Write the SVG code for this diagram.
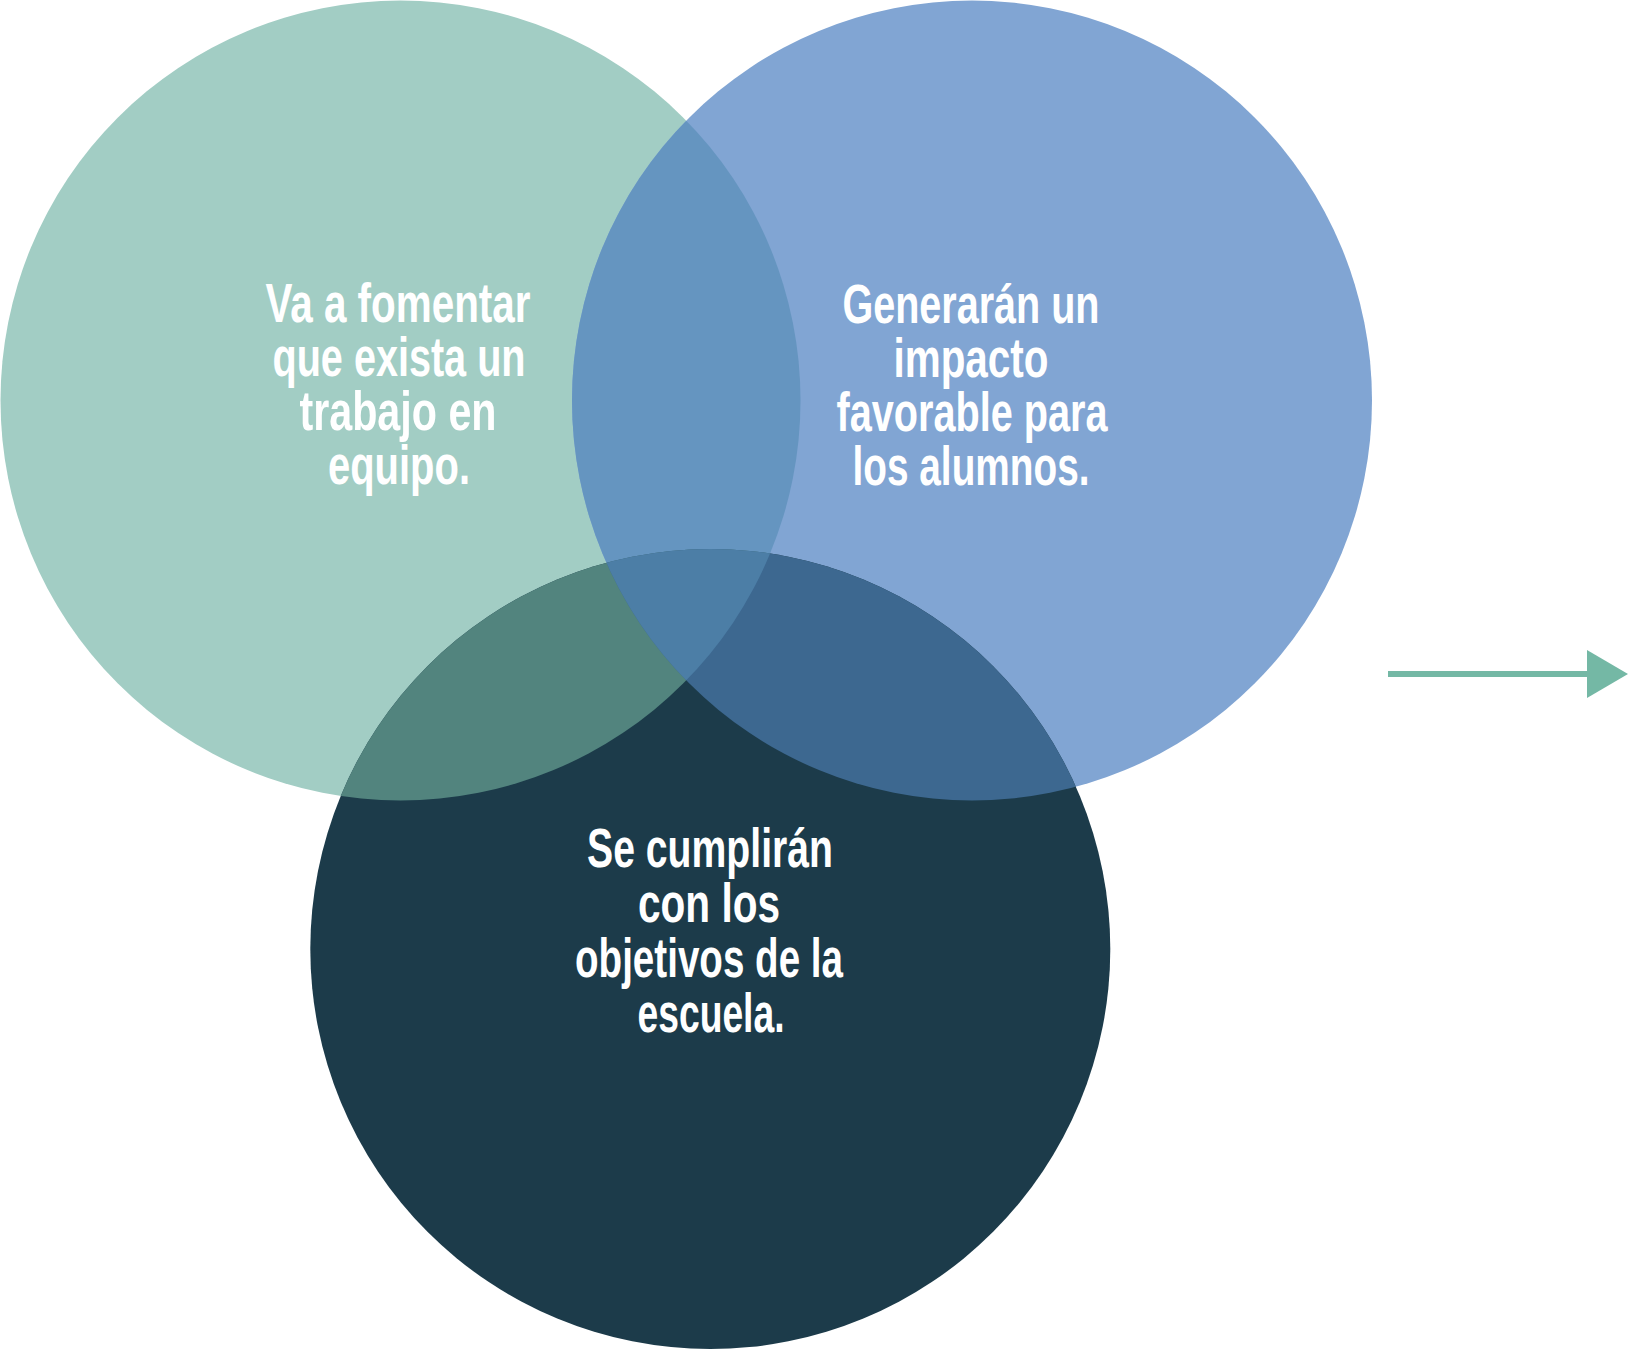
<svg xmlns="http://www.w3.org/2000/svg" width="1628" height="1350" viewBox="0 0 1628 1350">
<style>
.lbl{font-family:"Liberation Sans Narrow","Liberation Sans",Arial,sans-serif;font-weight:bold;font-size:56px;fill:#ffffff;text-anchor:middle}
</style>
<defs>
<clipPath id="cG"><circle cx="400.5" cy="400.5" r="400"/></clipPath>
<clipPath id="cB"><circle cx="972" cy="400.5" r="400"/></clipPath>
<clipPath id="cD"><circle cx="710.3" cy="949" r="400"/></clipPath>
<marker id="ah" markerUnits="userSpaceOnUse" markerWidth="42" markerHeight="48" refX="0" refY="24" orient="auto" viewBox="0 0 42 48">
<path d="M0,0 L41,24 L0,48 Z" fill="#74B8A5"/>
</marker>
</defs>
<rect width="1628" height="1350" fill="#ffffff"/>
<g id="circle-green"><circle cx="400.5" cy="400.5" r="400" fill="#A2CDC4"/></g>
<g id="circle-blue"><circle cx="972" cy="400.5" r="400" fill="#81A5D3"/></g>
<g id="circle-dark"><circle cx="710.3" cy="949" r="400" fill="#1C3B4A"/></g>
<g id="overlaps">
<g clip-path="url(#cG)"><circle cx="972" cy="400.5" r="400" fill="#6595C0"/></g>
<g clip-path="url(#cG)"><circle cx="710.3" cy="949" r="400" fill="#52847E"/></g>
<g clip-path="url(#cB)"><circle cx="710.3" cy="949" r="400" fill="#3D6890"/></g>
<g clip-path="url(#cG)"><g clip-path="url(#cB)"><circle cx="710.3" cy="949" r="400" fill="#4C7EA6"/></g></g>
</g>
<g id="text-green">
<text class="lbl" x="398" y="322" textLength="265" lengthAdjust="spacingAndGlyphs">Va a fomentar</text>
<text class="lbl" x="399" y="376" textLength="253" lengthAdjust="spacingAndGlyphs">que exista un</text>
<text class="lbl" x="398" y="430" textLength="197" lengthAdjust="spacingAndGlyphs">trabajo en</text>
<text class="lbl" x="399" y="484" textLength="142" lengthAdjust="spacingAndGlyphs">equipo.</text>
</g>
<g id="text-blue">
<text class="lbl" x="971" y="323" textLength="257" lengthAdjust="spacingAndGlyphs">Generarán un</text>
<text class="lbl" x="971" y="377" textLength="155" lengthAdjust="spacingAndGlyphs">impacto</text>
<text class="lbl" x="972" y="431" textLength="271" lengthAdjust="spacingAndGlyphs">favorable para</text>
<text class="lbl" x="971" y="485" textLength="237" lengthAdjust="spacingAndGlyphs">los alumnos.</text>
</g>
<g id="text-dark">
<text class="lbl" x="710" y="867" textLength="246" lengthAdjust="spacingAndGlyphs">Se cumplirán</text>
<text class="lbl" x="709" y="922" textLength="142" lengthAdjust="spacingAndGlyphs">con los</text>
<text class="lbl" x="709" y="977" textLength="268" lengthAdjust="spacingAndGlyphs">objetivos de la</text>
<text class="lbl" x="711" y="1032" textLength="147" lengthAdjust="spacingAndGlyphs">escuela.</text>
</g>
<g id="connectors">
<line x1="1388" y1="674" x2="1587" y2="674" stroke="#74B8A5" stroke-width="6" marker-end="url(#ah)"/>
</g>
</svg>
